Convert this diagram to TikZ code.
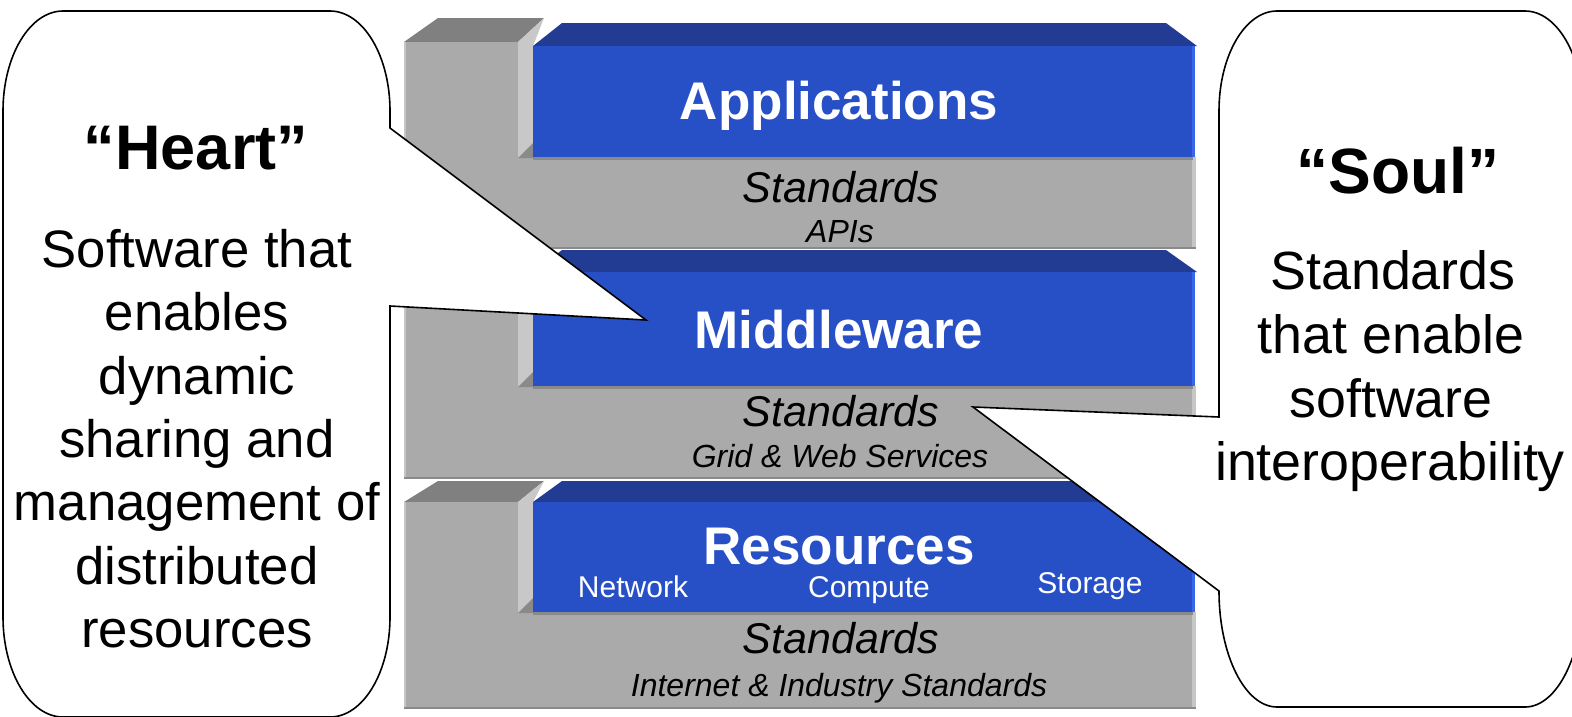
\documentclass[tikz,border=0pt]{standalone}
\usepackage{fontspec}
\setmainfont{Liberation Sans}
\definecolor{gfrontc}{HTML}{AAAAAA}
\definecolor{gtopc}{HTML}{808080}
\definecolor{gsidec}{HTML}{C8C8C8}
\definecolor{gshadc}{HTML}{8A8A8A}
\definecolor{gedgec}{HTML}{C6C6C6}
\definecolor{bfrontc}{HTML}{2850C6}
\definecolor{btopc}{HTML}{223C94}
\definecolor{bedgec}{HTML}{3A66EE}
\newcommand\drawlayer[6]{%
  % #1 gray top back, #2 gray top front, #3 blue top back, #4 blue front top, #5 blue bottom, #6 gray bottom
  \fill[gtopc] (404,#2) -- (438,#1) -- (544,#1) -- (518,#2) -- cycle;
  \fill[gsidec] (518,#2) -- (544,#1) -- (533,#4) -- (533,#5) -- (518,#5) -- cycle;
  \fill[gfrontc] (404,#2) rectangle (518,#6);
  \fill[gfrontc] (404,#5) rectangle (1196,#6);
  \fill[gedgec] (1192,#5) rectangle (1196,#6);
  \fill[gedgec] (404,#2) rectangle (406,#6);
  \fill[gshadc] (404,#6-2) rectangle (1196,#6);
  \fill[gshadc] (533,#5) rectangle (1193,#5+3);
  \fill[gshadc] (518,#5+1) -- (533,#5-14) -- (533,#5+1) -- cycle;
  \fill[btopc] (533,#4) -- (562,#3) -- (1166,#3) -- (1197,#4) -- cycle;
  \fill[bfrontc] (533,#4) rectangle (1195,#5);
  \fill[bedgec] (1192,#4) rectangle (1195,#5);
}
\begin{document}
\begin{tikzpicture}[x=1pt,y=-1pt,
  lbl/.style={anchor=base,inner sep=0pt,text=white},
  stdtxt/.style={anchor=base,inner sep=0pt,text=black,font=\itshape\fontsize{43}{48}\selectfont},
  subtxt/.style={anchor=base,inner sep=0pt,text=black,font=\itshape\fontsize{32}{36}\selectfont},
  restxt/.style={anchor=base,inner sep=0pt,text=white,font=\fontsize{30}{36}\selectfont},
  calltxt/.style={anchor=base,inner sep=0pt,text=black},
  callout/.style={fill=white,draw=black,line width=1.6pt,line join=miter}]
\useasboundingbox (0,0) rectangle (1572,716);
\clip (0,0) rectangle (1572,716);
\fill[white] (0,0) rectangle (1572,716);

% layers
\drawlayer{18}{42}{23}{46}{157}{249}
\drawlayer{250}{272}{250}{272}{386}{479}
\drawlayer{481}{502}{481}{502}{612}{709}

% layer labels
\node[lbl,font=\bfseries\fontsize{53}{60}\selectfont] (app) at (839,119) {Applications};
\node[stdtxt] (std1) at (841,202) {Standards};
\node[subtxt] (api) at (840,242) {APIs};
\node[lbl,font=\bfseries\fontsize{53}{60}\selectfont] (mid) at (839,348) {Middleware};
\node[stdtxt] (std2) at (841,426) {Standards};
\node[subtxt] (gws) at (840,467) {Grid \& Web Services};
\node[lbl,font=\bfseries\fontsize{53}{60}\selectfont] (res) at (839,564) {Resources};
\node[restxt] (net) at (633,597) {Network};
\node[restxt] (cmp) at (869,597) {Compute};
\node[restxt] (sto) at (1090,593) {Storage};
\node[stdtxt] (std3) at (841,653) {Standards};
\node[subtxt] (iis) at (839,696) {Internet \& Industry Standards};

% left callout
\coordinate (ltip) at (646,320);
\draw[callout] (390,306) -- (ltip) -- (390,128) -- (390,111)
  .. controls (390,55.8) and (363.1,11) .. (330,11) -- (63,11)
  .. controls (29.9,11) and (3,55.8) .. (3,111) -- (3,617)
  .. controls (3,672.2) and (29.9,717) .. (63,717) -- (330,717)
  .. controls (363.1,717) and (390,672.2) .. (390,617) -- cycle;

% right callout
\coordinate (rtip) at (973,407);
\draw[callout] (1219,417) -- (rtip) -- (1219,591)
  .. controls (1219,655.1) and (1245,707) .. (1277,707) -- (1525,707)
  .. controls (1557,707) and (1583,655.1) .. (1583,591) -- (1583,111)
  .. controls (1583,55.8) and (1557,11) .. (1525,11) -- (1277,11)
  .. controls (1245,11) and (1219,55.8) .. (1219,111) -- cycle;

% left callout text
\node[calltxt,font=\bfseries\fontsize{63}{70}\selectfont] (heart) at (196,169) {“Heart”};
\node[calltxt,font=\fontsize{52.7}{60}\selectfont] (l1) at (197,267) {Software that};
\node[calltxt,font=\fontsize{52.7}{60}\selectfont] (l2) at (197,330) {enables};
\node[calltxt,font=\fontsize{52.7}{60}\selectfont] (l3) at (197,394) {dynamic};
\node[calltxt,font=\fontsize{52.7}{60}\selectfont] (l4) at (197,457) {sharing and};
\node[calltxt,font=\fontsize{52.7}{60}\selectfont] (l5) at (197,520) {management of};
\node[calltxt,font=\fontsize{52.7}{60}\selectfont] (l6) at (197,584) {distributed};
\node[calltxt,font=\fontsize{52.7}{60}\selectfont] (l7) at (197,647) {resources};

% right callout text
\node[calltxt,font=\bfseries\fontsize{64}{70}\selectfont] (soul) at (1398,193) {“Soul”};
\node[calltxt,font=\fontsize{53.8}{60}\selectfont] (r1) at (1393,289) {Standards};
\node[calltxt,font=\fontsize{53.8}{60}\selectfont] (r2) at (1391,353) {that enable};
\node[calltxt,font=\fontsize{53.8}{60}\selectfont] (r3) at (1391,417) {software};
\node[calltxt,font=\fontsize{53.8}{60}\selectfont] (r4) at (1390,480) {interoperability};
\end{tikzpicture}
\end{document}
